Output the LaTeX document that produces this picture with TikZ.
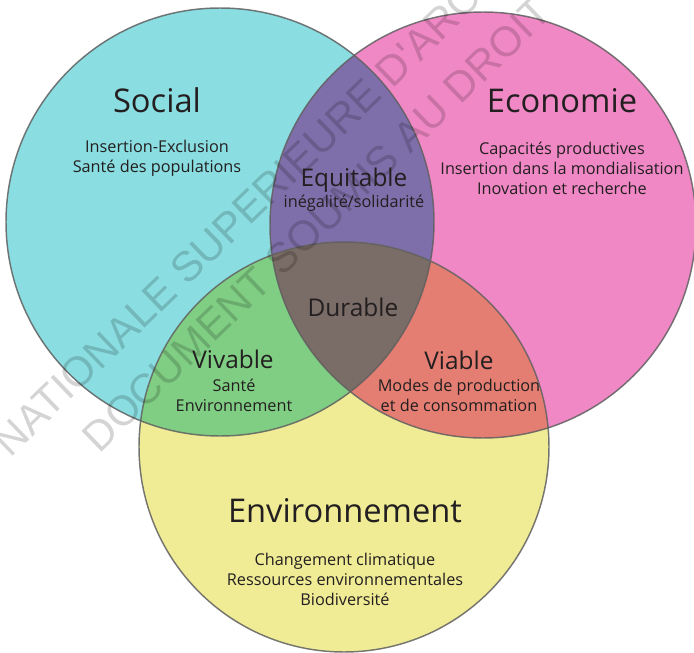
\documentclass[tikz,border=0pt]{standalone}
\usepackage{fontspec}
\setmainfont{Open Sans}
\newfontfamily\wmfont{Liberation Sans}
\definecolor{cSoc}{HTML}{8ADDE0}
\definecolor{cEco}{HTML}{F088C6}
\definecolor{cEnv}{HTML}{F0EC96}
\definecolor{cSE}{HTML}{7E6FAA}
\definecolor{cSV}{HTML}{80CE84}
\definecolor{cEV}{HTML}{E57E72}
\definecolor{cAll}{HTML}{7A6C66}
\definecolor{txt}{HTML}{231F20}
\definecolor{edge}{HTML}{606060}
\tikzset{
  ttl/.style={font=\fontsize{24.5}{29}\selectfont, text=txt, inner sep=0pt},
  lens/.style={font=\fontsize{18.3}{22}\selectfont, text=txt, inner sep=0pt},
  sml/.style={font=\fontsize{12.2}{15}\selectfont, text=txt, inner sep=0pt, align=center},
  wm/.style={font=\wmfont\fontsize{31.5}{36}\selectfont, text=black, text opacity=0.17, inner sep=0pt, rotate=44},
  ring/.style={draw=edge, draw opacity=0.85, line width=1.1pt}
}
\def\soc{(220,222) circle[radius=160.5pt]}
\def\eco{(483,225) circle[radius=159.75pt]}
\def\env{(344,447) circle[radius=153.75pt]}
\begin{document}
\begin{tikzpicture}[x=0.75pt,y=-0.75pt]
\useasboundingbox (0,0) rectangle (694,653);
\begin{scope}
\clip (0,0) rectangle (694,653);
% base fills
\fill[cSoc] \soc;
\fill[cEco] \eco;
\fill[cEnv] \env;
% pairwise overlaps
\begin{scope}
  \clip \soc;
  \fill[cSE] \eco;
  \fill[cSV] \env;
\end{scope}
\begin{scope}
  \clip \eco;
  \fill[cEV] \env;
\end{scope}
\begin{scope}
  \clip \soc;
  \clip \eco;
  \fill[cAll] \env;
\end{scope}
% outlines
\draw[ring] \soc;
\draw[ring] \eco;
\draw[ring] \env;
% watermark
\node[wm] (wm1) at (237,219) {NATIONALE SUPERIEURE D'ARC};
\node[wm] (wm2) at (317,224) {DOCUMENT SOUMIS AU DROIT};
\end{scope}
% labels
\node[ttl] (social) at (157,100) {Social};
\node[sml] (socitems) at (157,158.5) {Insertion-Exclusion\\Santé des populations};
\node[ttl] (economie) at (562,101) {Economie};
\node[sml] (ecoitems) at (562,168) {Capacités productives\\Insertion dans la mondialisation\\Inovation et recherche};
\node[lens] (equitable) at (354,180) {Equitable};
\node[sml] (equitems) at (354,203) {inégalité/solidarité};
\node[lens] (durable) at (353,307) {Durable};
\node[lens] (viable) at (459,360) {Viable};
\node[sml] (viaitems) at (459,395) {Modes de production\\et de consommation};
\node[lens] (vivable) at (233,359) {Vivable};
\node[sml] (vivitems) at (234,395) {Santé\\Environnement};
\node[ttl] (environnement) at (345,511) {Environnement};
\node[sml] (envitems) at (345,579) {Changement climatique\\Ressources environnementales\\Biodiversité};
\end{tikzpicture}
\end{document}
